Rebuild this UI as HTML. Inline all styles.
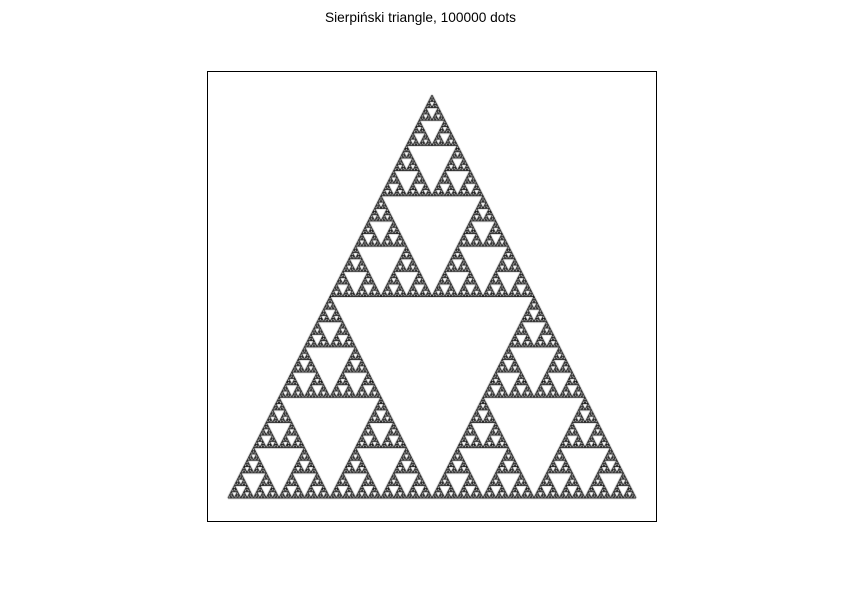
<!DOCTYPE html>
<html>
<head>
<meta charset="utf-8">
<style>
  html,body{margin:0;padding:0;background:#fff;}
  #wrap{position:relative;width:841px;height:595px;overflow:hidden;font-family:"Liberation Sans","DejaVu Sans",sans-serif;}
  #title{position:absolute;left:0;width:841px;top:10px;text-align:center;font-size:13.7px;color:#000;}
  #frame{position:absolute;left:207px;top:71px;width:448px;height:449px;border:1px solid #000;}
  canvas{position:absolute;left:0;top:0;}
</style>
</head>
<body>
<div id="wrap">
  <div id="title">Sierpiński triangle, 100000 dots</div>
  <div id="frame"></div>
  <canvas id="cv" width="841" height="595"></canvas>
</div>
<script>
// Data: triangle vertices (data coordinates) and recursion depth
const vertexX = [0, 1, 0.5];
const vertexY = [0, 0, 1];
const depthLevels = [7];

// Axis functions
function xScale(v){ return 228 + v * (636 - 228); }
function yScale(v){ return 498 - v * (498 - 95); }

const ctx = document.getElementById('cv').getContext('2d');
ctx.strokeStyle = '#000';
ctx.lineWidth = 1;

function draw(ax, ay, bx, by, cx, cy, d){
  if (d === 0){
    ctx.beginPath();
    ctx.moveTo(xScale(ax), yScale(ay));
    ctx.lineTo(xScale(bx), yScale(by));
    ctx.lineTo(xScale(cx), yScale(cy));
    ctx.closePath();
    ctx.stroke();
    return;
  }
  const abx=(ax+bx)/2, aby=(ay+by)/2;
  const bcx=(bx+cx)/2, bcy=(by+cy)/2;
  const cax=(cx+ax)/2, cay=(cy+ay)/2;
  draw(ax,ay,abx,aby,cax,cay,d-1);
  draw(abx,aby,bx,by,bcx,bcy,d-1);
  draw(cax,cay,bcx,bcy,cx,cy,d-1);
}
draw(vertexX[0],vertexY[0],vertexX[1],vertexY[1],vertexX[2],vertexY[2],depthLevels[0]);
</script>
</body>
</html>
